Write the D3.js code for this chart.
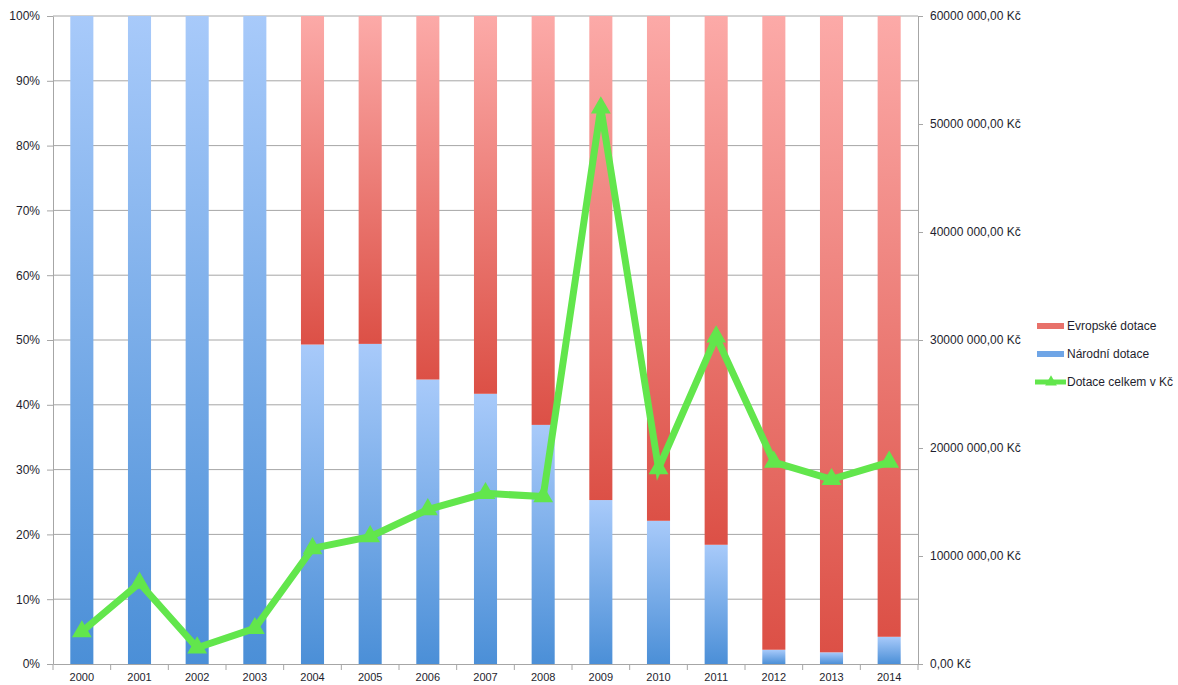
<!DOCTYPE html>
<html>
<head>
<meta charset="utf-8">
<script src="https://cdn.jsdelivr.net/npm/d3@7"></script>
<style>
  body { margin: 0; background: #fff; }
  text { font-family: "Liberation Sans", Arial, sans-serif; fill: #1e1e2e; }
</style>
</head>
<body>
<div id="chart"></div>
<script>
var years = ["2000","2001","2002","2003","2004","2005","2006","2007","2008","2009","2010","2011","2012","2013","2014"];
var narodni = [100, 100, 100, 100, 49.3, 49.4, 43.9, 41.7, 36.9, 25.3, 22.1, 18.4, 2.2, 1.8, 4.2];
var evropske = [0, 0, 0, 0, 50.7, 50.6, 56.1, 58.3, 63.1, 74.7, 77.9, 81.6, 97.8, 98.2, 95.8];
var celkem = [3.0e6, 7.5e6, 1.5e6, 3.3e6, 10.7e6, 11.8e6, 14.3e6, 15.8e6, 15.5e6, 51.5e6, 18.1e6, 30.3e6, 18.7e6, 17.1e6, 18.7e6];
var seriesNames = ["Evropské dotace", "Národní dotace", "Dotace celkem v Kč"];

var margin = {top: 16, right: 260, bottom: 21, left: 53},
    width = 1178 - margin.left - margin.right,
    height = 685 - margin.top - margin.bottom;

var svgRoot = d3.select("#chart").append("svg")
    .attr("width", 1178)
    .attr("height", 685);

var defs = svgRoot.append("defs");
var gBlue = defs.append("linearGradient").attr("id", "gBlue")
    .attr("x1", 0).attr("y1", 0).attr("x2", 0).attr("y2", 1);
gBlue.append("stop").attr("offset", "0%").attr("stop-color", "#a8cafa");
gBlue.append("stop").attr("offset", "100%").attr("stop-color", "#4b8fd7");
var gRed = defs.append("linearGradient").attr("id", "gRed")
    .attr("x1", 0).attr("y1", 0).attr("x2", 0).attr("y2", 1);
gRed.append("stop").attr("offset", "0%").attr("stop-color", "#fcaaa8");
gRed.append("stop").attr("offset", "100%").attr("stop-color", "#dc5046");

var svg = svgRoot.append("g")
    .attr("transform", "translate(" + margin.left + "," + margin.top + ")");

var x = d3.scaleBand().domain(years).range([0, width]).paddingInner(0.6).paddingOuter(0.3);
var xb = d3.scaleBand().domain(years).range([0, width]);
var y = d3.scaleLinear().domain([0, 100]).range([height, 0]);
var y2 = d3.scaleLinear().domain([0, 60e6]).range([height, 0]);

// gridlines
svg.append("g")
  .selectAll("line")
  .data(d3.range(10, 101, 10))
  .enter().append("line")
    .attr("x1", 0).attr("x2", width)
    .attr("y1", function(d) { return y(d); })
    .attr("y2", function(d) { return y(d); })
    .attr("stroke", "#a6a6a6")
    .attr("stroke-width", 1);

// stacked bars
var data = years.map(function(yr, i) { return {year: yr, n: narodni[i], e: evropske[i]}; });

svg.append("g").selectAll("rect")
  .data(data)
  .enter().append("rect")
    .attr("x", function(d) { return x(d.year); })
    .attr("width", x.bandwidth())
    .attr("y", function(d) { return y(d.n); })
    .attr("height", function(d) { return height - y(d.n); })
    .attr("fill", "url(#gBlue)");

svg.append("g").selectAll("rect")
  .data(data.filter(function(d) { return d.e > 0; }))
  .enter().append("rect")
    .attr("x", function(d) { return x(d.year); })
    .attr("width", x.bandwidth())
    .attr("y", function(d) { return y(d.n + d.e); })
    .attr("height", function(d) { return y(d.n) - y(d.n + d.e); })
    .attr("fill", "url(#gRed)");

// left axis
var yAxis = svg.append("g")
    .call(d3.axisLeft(y).tickValues(d3.range(0, 101, 10)).tickFormat(function(d) { return d + "%"; }).tickSize(6).tickSizeOuter(0));
yAxis.select(".domain").attr("stroke", "#a6a6a6");
yAxis.selectAll(".tick line").attr("stroke", "#a6a6a6");
yAxis.selectAll("text").attr("x", -13).style("font-size", "12px").attr("fill", "#1e1e2e");

// right axis
var y2Axis = svg.append("g")
    .attr("transform", "translate(" + width + ",0)")
    .call(d3.axisRight(y2).tickValues(d3.range(0, 60e6 + 1, 10e6)).tickSize(5).tickSizeOuter(0)
      .tickFormat(function(d) {
        if (d === 0) return "0,00 Kč";
        var m = d / 1e6;
        return m + "000 000,00 Kč";
      }));
y2Axis.select(".domain").attr("stroke", "#a6a6a6");
y2Axis.selectAll(".tick line").attr("stroke", "#a6a6a6");
y2Axis.selectAll("text").attr("x", 12).style("font-size", "12px").attr("fill", "#1e1e2e");

// bottom axis
var xAxis = svg.append("g")
    .attr("transform", "translate(0," + height + ")")
    .call(d3.axisBottom(xb).tickSize(0).tickSizeOuter(0));
xAxis.select(".domain").attr("stroke", "#a6a6a6");
xAxis.selectAll("text").attr("y", 9).attr("dy", "0.71em").style("font-size", "11px").attr("fill", "#1e1e2e");
svg.append("g").selectAll("line")
  .data(years.concat(["end"]))
  .enter().append("line")
    .attr("x1", function(d, i) { return i * xb.bandwidth(); })
    .attr("x2", function(d, i) { return i * xb.bandwidth(); })
    .attr("y1", height).attr("y2", height + 6)
    .attr("stroke", "#a6a6a6");

// total line
var line = d3.line()
    .x(function(d, i) { return x(years[i]) + x.bandwidth() / 2; })
    .y(function(d) { return y2(d); });

svg.append("path")
    .datum(celkem)
    .attr("fill", "none")
    .attr("stroke", "#62e64c")
    .attr("stroke-width", 7)
    .attr("stroke-linejoin", "miter")
    .attr("d", line);

var tri = d3.symbol().type(d3.symbolTriangle).size(170);
svg.append("g").selectAll("path")
  .data(celkem)
  .enter().append("path")
    .attr("transform", function(d, i) { return "translate(" + (x(years[i]) + x.bandwidth() / 2) + "," + y2(d) + ")"; })
    .attr("d", tri)
    .attr("fill", "#62e64c");

// legend
var legend = svgRoot.append("g")
    .attr("transform", "translate(1037,326)");
var lg = legend.selectAll("g")
  .data(seriesNames)
  .enter().append("g")
    .attr("transform", function(d, i) { return "translate(0," + i * 28 + ")"; });

lg.filter(function(d, i) { return i < 2; }).append("rect")
    .attr("x", 0).attr("y", -3)
    .attr("width", 27).attr("height", 6)
    .attr("fill", function(d, i) { return i === 0 ? "#e8716a" : "#6fa5e6"; });

lg.filter(function(d, i) { return i === 2; }).append("line")
    .attr("x1", -2).attr("x2", 29).attr("y1", 0).attr("y2", 0)
    .attr("stroke", "#62e64c").attr("stroke-width", 5);
lg.filter(function(d, i) { return i === 2; }).append("path")
    .attr("transform", "translate(14,0)")
    .attr("d", d3.symbol().type(d3.symbolTriangle).size(60))
    .attr("fill", "#62e64c");

lg.append("text")
    .attr("x", 30)
    .attr("y", 0)
    .attr("dy", "0.35em")
    .style("font-size", "12px")
    .attr("fill", "#1e1e2e")
    .text(function(d) { return d; });
</script>
</body>
</html>
